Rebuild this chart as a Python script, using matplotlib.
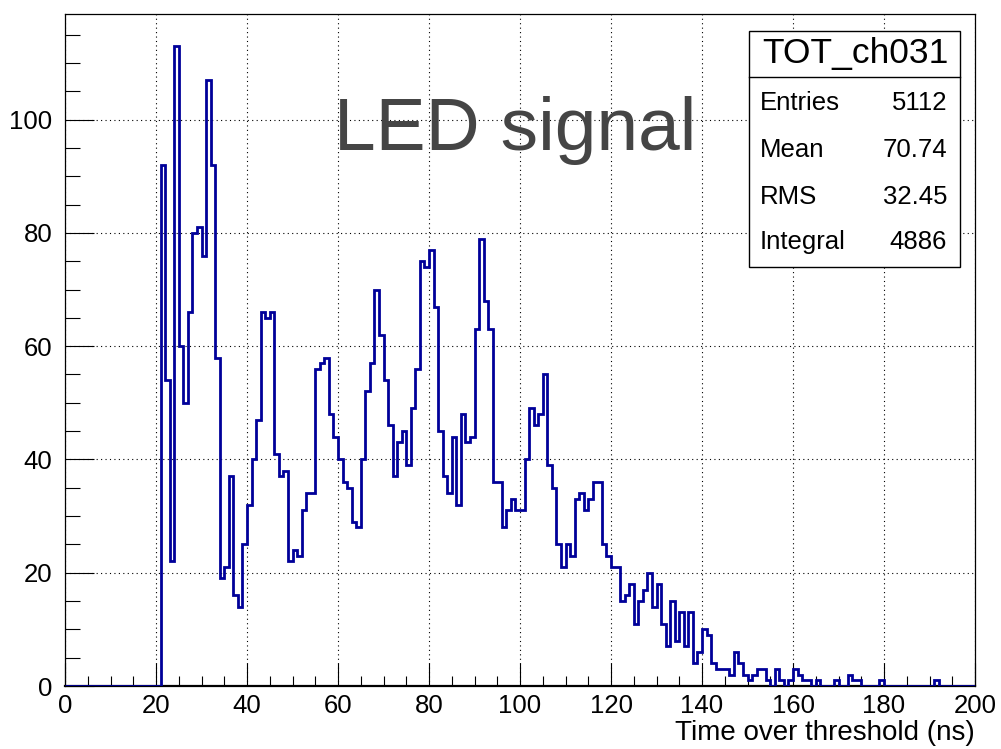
import matplotlib
matplotlib.use('Agg')
from matplotlib import pyplot as plt
from matplotlib.patches import Rectangle
from matplotlib.ticker import MultipleLocator
from matplotlib.lines import Line2D
import numpy as np

plt.rcParams['font.family'] = ['Liberation Sans', 'DejaVu Sans']

# TOT histogram, 1 ns bins from 0 to 200 ns
bin_lo = 0
bin_hi = 200
counts = [
    0, 0, 0, 0, 0, 0, 0, 0, 0, 0,
    0, 0, 0, 0, 0, 0, 0, 0, 0, 0,
    0, 92, 54, 22, 113, 60, 50, 66, 80, 81,
    76, 107, 92, 58, 19, 21, 37, 16, 14, 25,
    32, 40, 47, 66, 65, 66, 41, 37, 38, 22,
    24, 23, 31, 34, 34, 56, 57, 58, 48, 44,
    40, 36, 35, 29, 28, 40, 52, 57, 70, 62,
    54, 46, 37, 43, 45, 39, 49, 56, 75, 74,
    77, 67, 45, 37, 34, 44, 32, 48, 43, 44,
    63, 79, 68, 63, 36, 36, 28, 31, 33, 31,
    31, 40, 49, 46, 48, 55, 39, 35, 25, 21,
    25, 23, 33, 34, 31, 33, 36, 36, 25, 23,
    21, 21, 15, 16, 18, 11, 15, 17, 20, 14,
    18, 11, 7, 15, 8, 13, 7, 13, 4, 6,
    10, 9, 4, 3, 3, 3, 2, 6, 4, 2,
    1, 2, 3, 3, 1, 0, 3, 1, 0, 1,
    3, 2, 1, 1, 0, 1, 0, 0, 0, 1,
    0, 0, 2, 1, 1, 0, 0, 0, 0, 1,
    0, 0, 0, 0, 0, 0, 0, 0, 0, 0,
    0, 1, 0, 0, 0, 0, 0, 0, 0, 0,
]

hist_name = 'TOT_ch031'
stat_names = ['Entries', 'Mean', 'RMS', 'Integral']
stat_values = ['5112', '70.74', '32.45', '4886']
xlabel = 'Time over threshold (ns)'
overlay = 'LED signal'

W, H = 1001, 749


def fx(px):
    return px / W


def fy(py):
    return 1 - py / H


fig = plt.figure(figsize=(W / 100, H / 100), dpi=100)
ax = fig.add_axes([fx(65), fy(686), fx(975) - fx(65), fy(14) - fy(686)])

edges = np.linspace(bin_lo, bin_hi, len(counts) + 1)
ax.stairs(counts, edges, baseline=None, color='#000099', linewidth=2.0, zorder=3)

ax.set_xlim(bin_lo, bin_hi)
ax.set_ylim(0, max(counts) * 1.05)

ax.xaxis.set_major_locator(MultipleLocator(20))
ax.xaxis.set_minor_locator(MultipleLocator(5))
ax.yaxis.set_major_locator(MultipleLocator(20))
ax.yaxis.set_minor_locator(MultipleLocator(5))

ax.grid(True, which='major', color='black', linestyle=(0, (1, 3)), linewidth=0.8, zorder=1)
ax.set_axisbelow(True)

ax.tick_params(axis='x', which='major', direction='in', length=16.5, width=0.8, labelsize=18.5, pad=6)
ax.tick_params(axis='x', which='minor', direction='in', length=7.5, width=0.8)
ax.tick_params(axis='y', which='major', direction='in', length=21, width=0.8, labelsize=18.5, pad=9)
ax.tick_params(axis='y', which='minor', direction='in', length=10.5, width=0.8)
for s in ax.spines.values():
    s.set_linewidth(0.9)
ax.spines['bottom'].set_linewidth(1.6)

fig.text(fx(975), fy(733), xlabel, ha='right', va='center', fontsize=20)

fig.text(fx(515), fy(150), overlay, ha='center', va='baseline',
         fontsize=54, color='#454545', zorder=4)

# stats box
bx0, bx1, by0, by1, bdiv = 749, 960, 31, 267, 77
fig.patches.append(Rectangle((fx(bx0), fy(by1)), fx(bx1) - fx(bx0), fy(by0) - fy(by1),
                             transform=fig.transFigure, facecolor='white',
                             edgecolor='black', linewidth=1.0, zorder=5))
fig.lines.append(Line2D([fx(bx0), fx(bx1)], [fy(bdiv), fy(bdiv)],
                        transform=fig.transFigure, color='black', linewidth=1.0, zorder=6))
fig.text(fx(855), fy(54), hist_name, ha='center', va='center', fontsize=25.5, zorder=7)
row_y = [103, 150, 197, 242]
for name, val, yy in zip(stat_names, stat_values, row_y):
    fig.text(fx(760), fy(yy), name, ha='left', va='center', fontsize=18.5, zorder=7)
    fig.text(fx(947), fy(yy), val, ha='right', va='center', fontsize=18.5, zorder=7)

fig.savefig('out.png', dpi=100)
